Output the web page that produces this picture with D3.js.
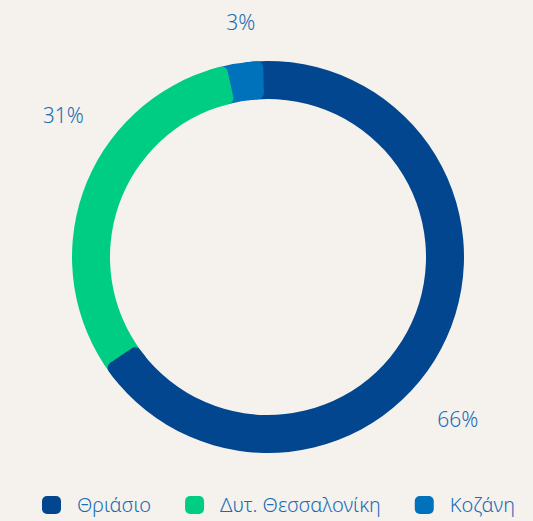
<!DOCTYPE html>
<html lang="el">
<head>
    <meta charset="UTF-8">
    <title></title>
    <style>
        html, body {
            margin: 0;
            padding: 0;
            background: #f5f2ee;
        }
        * {
            font-family: "Noto Sans", sans-serif;
        }
    </style>
</head>
<body>
<script src="https://d3js.org/d3.v7.min.js"></script>
<script>
    var width = 533;
    var height = 521;

    // data
    var categories = ["Θριάσιο", "Δυτ. Θεσσαλονίκη", "Κοζάνη"];
    var values = [66, 31, 3];
    var colours = ["#02468f", "#00cd84", "#0071bb"];

    var textColour = "#1a6cb5";
    var cx = 268, cy = 257;
    var outer = 196, inner = 158;

    // small nudges so labels sit where the original put them (degrees, px)
    var labelShift = [[11.8, 2], [11.3, 1], [-1.2, -12]];

    var svg = d3.select("body")
        .append("svg")
        .attr("width", width)
        .attr("height", height);

    var pie = d3.pie().sort(null).value(function(d) { return d; });
    var slices = pie(values);

    var g = svg.append("g")
        .attr("transform", "translate(" + cx + "," + cy + ")");

    var ring = d3.arc().innerRadius(inner).outerRadius(outer);
    var cap = d3.arc().innerRadius(inner).outerRadius(outer).cornerRadius(6);

    var delta = 0.05;   // straight part starts under the previous rounded end
    var capSize = 0.12;
    var shift = -0.025; // whole ring sits a touch left of 12 o'clock

    // pass 1: straight bodies
    g.append("g")
        .selectAll("path")
        .data(slices)
        .enter()
        .append("path")
        .attr("d", function(d) {
            return ring({startAngle: d.startAngle - delta + shift, endAngle: d.endAngle - delta + shift});
        })
        .style("fill", function(d, i) { return colours[i]; });

    // pass 2: rounded ends
    g.append("g")
        .selectAll("path")
        .data(slices)
        .enter()
        .append("path")
        .attr("d", function(d) {
            return cap({startAngle: d.endAngle - capSize + shift, endAngle: d.endAngle + shift});
        })
        .style("fill", function(d, i) { return colours[i]; });

    // percentage labels
    g.append("g")
        .selectAll("text")
        .data(slices)
        .enter()
        .append("text")
        .attr("x", function(d, i) {
            var a = (d.startAngle + d.endAngle) / 2 + labelShift[i][0] * Math.PI / 180;
            return Math.sin(a) * (248 + labelShift[i][1]);
        })
        .attr("y", function(d, i) {
            var a = (d.startAngle + d.endAngle) / 2 + labelShift[i][0] * Math.PI / 180;
            return -Math.cos(a) * (248 + labelShift[i][1]);
        })
        .attr("dy", "0.36em")
        .attr("text-anchor", "middle")
        .style("font-size", "21px")
        .style("font-weight", 350)
        .style("fill", textColour)
        .text(function(d) { return d.data + "%"; });

    // legend
    var legend = svg.append("g").attr("transform", "translate(42,505)");
    var x = 0;
    categories.forEach(function(name, i) {
        var item = legend.append("g").attr("transform", "translate(" + x + ",0)");
        item.append("rect")
            .attr("x", 0)
            .attr("y", -9)
            .attr("width", 19)
            .attr("height", 18)
            .attr("rx", 5)
            .style("fill", colours[i]);
        var t = item.append("text")
            .attr("x", 35)
            .attr("y", 0)
            .attr("dy", "0.35em")
            .style("font-size", "20px")
            .style("font-weight", 350)
            .style("fill", textColour)
            .text(name);
        x += 35 + t.node().getComputedTextLength() + 34;
    });
</script>
</body>
</html>
